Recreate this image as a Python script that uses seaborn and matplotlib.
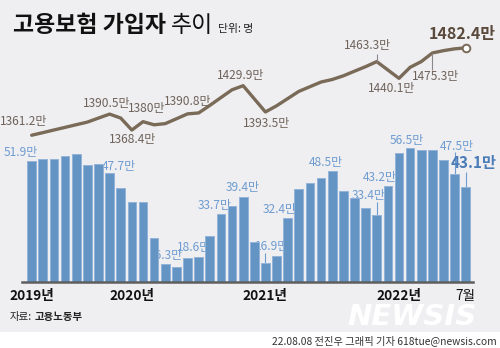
import numpy as np
import pandas as pd
import matplotlib
matplotlib.use("Agg")
import matplotlib.pyplot as plt
from matplotlib.patches import Rectangle
import seaborn as sns

# ---------------- data ----------------
months = [str(p) for p in pd.period_range("2019-04", "2022-07", freq="M")]
increase = [51.9, 52.6, 52.5, 53.6, 54.3, 50.4, 50.9, 47.7, 42.5, 37.7,
            37.7, 25.5, 16.3, 15.5, 18.6, 18.8, 26.2, 33.7, 36.5, 39.4,
            23.9, 16.9, 19.2, 32.4, 42.3, 44.2, 46.2, 48.5, 41.7, 39.1,
            35.6, 33.4, 43.2, 54.8, 56.5, 55.7, 55.6, 52.3, 47.5, 43.1]
subscribers = [1361.2, 1364.8, 1368.5, 1372.1, 1375.8, 1379.4, 1385.0, 1390.5, 1385.0, 1368.4,
               1380.0, 1375.7, 1377.3, 1384.0, 1390.8, 1392.1, 1402.5, 1413.4, 1424.2, 1429.9,
               1411.7, 1393.5, 1402.0, 1412.0, 1422.0, 1428.5, 1435.0, 1438.5, 1443.6, 1450.0,
               1456.3, 1463.3, 1451.7, 1440.1, 1455.4, 1463.3, 1475.3, 1478.5, 1481.0, 1482.4]
tick_idx = [0, 9, 21, 33, 39]
tick_labels = ["2019년", "2020년", "2021년", "2022년", "7월"]

# labelled points: index -> (dx, dy) offsets in pixels
line_labels = {0: (-8, 14), 7: (-3, 11), 9: (1, -9), 10: (4, 13), 14: (0, 12),
               19: (-3, 10), 21: (1, -12), 31: (-9, 16), 33: (-7, -10), 36: (3, -24)}
bar_labels = {0: (-11, 9), 7: (9, 7), 12: (1, 9), 14: (7, 10), 17: (-6, 8),
              19: (0, 10), 21: (7, 16), 23: (-8, 8), 27: (-6, 8), 31: (-8, 19),
              32: (-8, 9), 34: (-3, 7), 38: (2, 27)}

# ---------------- style ----------------
BG = "#efeff1"
BAR = "#6494c4"
LINE = "#7a6a58"
LTXT = "#6e625a"
BTXT = "#6e9bd0"
NARROW = ["Liberation Sans Narrow", "Noto Sans CJK KR"]
KR = ["Noto Sans CJK KR", "DejaVu Sans"]

sns.set_theme(style="white")
plt.rcParams["font.family"] = NARROW

W, H = 500, 348
fig = plt.figure(figsize=(W / 100, H / 100), dpi=100)
fig.patch.set_facecolor(BG)
fig.patches.append(Rectangle((0, 0), 1, 16 / H, transform=fig.transFigure,
                             facecolor="white", edgecolor="none", zorder=0))

left, right, top, base = 22, 473, 20, 281.7
ax = fig.add_axes([left / W, (H - base) / H, (right - left) / W, (base - top) / H])
ax.set_facecolor("none")

df = pd.DataFrame({"month": months, "increase": increase})
sns.barplot(data=df, x="month", y="increase", ax=ax, color=BAR, saturation=1,
            width=0.78, edgecolor="#93b3d8", linewidth=0.7, zorder=2)
ax.set_xlim(-0.87, 39.65)
ax.set_ylim(10.3, 100.5)
for s in ["top", "right", "left"]:
    ax.spines[s].set_visible(False)
ax.spines["bottom"].set_color("#5f5f5f")
ax.spines["bottom"].set_linewidth(1.8)
ax.set_yticks([])
ax.set_xlabel("")
ax.set_ylabel("")
ax.set_xticks(tick_idx)
ax.set_xticklabels(tick_labels)
ax.tick_params(axis="x", length=0, pad=5)
for i, t in enumerate(ax.get_xticklabels()):
    t.set_fontfamily(NARROW)
    t.set_fontsize(9.8)
    t.set_color("#111111")
    t.set_fontweight("normal" if i == 4 else "bold")

# bar labels sit behind the bars (as in the original, where neighbours clip them)
for i, (dx, dy) in bar_labels.items():
    ax.annotate(f"{increase[i]:g}만", xy=(i, increase[i]), xytext=(dx, dy),
                textcoords="offset pixels", ha="center", va="center",
                fontsize=8.6, color=BTXT, family=NARROW, zorder=1)
ax.annotate(f"{increase[39]:g}만", xy=(39, increase[39]), xytext=(8, 24),
            textcoords="offset pixels", ha="center", va="center",
            fontsize=11, fontweight="bold", color="#4a7cb8", family=NARROW, zorder=3)
# leader ticks for crowded bar labels
for i, d in [(21, 3.3), (31, 4.4), (38, 7.5), (39, 5.0)]:
    ax.vlines(i, increase[i], increase[i] + d, color=BTXT, lw=0.8, zorder=1)

# ---------------- line ----------------
ax2 = ax.twinx()
ax2.set_position(ax.get_position())
sns.lineplot(x=np.arange(len(subscribers)), y=subscribers, ax=ax2, color=LINE,
             linewidth=2.4, solid_joinstyle="round", solid_capstyle="round")
sns.scatterplot(x=[len(subscribers) - 1], y=[subscribers[-1]], ax=ax2, s=30,
                color="white", edgecolor=LINE, linewidth=1.4, zorder=5)
ax2.set_ylim(1158.1, 1521.0)
ax2.set_xlim(-0.87, 39.65)
for s in ax2.spines.values():
    s.set_visible(False)
ax2.set_yticks([])
ax2.set_ylabel("")
ax2.grid(False)
ax.grid(False)

for i, (dx, dy) in line_labels.items():
    ax2.annotate(f"{subscribers[i]:g}만", xy=(i, subscribers[i]), xytext=(dx, dy),
                 textcoords="offset pixels", ha="center", va="center",
                 fontsize=8.6, color=LTXT, family=NARROW)
ax2.annotate(f"{subscribers[39]:g}만", xy=(39, subscribers[39]), xytext=(-3, 14),
             textcoords="offset pixels", ha="center", va="center",
             fontsize=11.5, fontweight="bold", color="#5a4a3c", family=NARROW)
ax2.vlines(31, subscribers[31], subscribers[31] + 11, color="#8a8a8a", lw=0.8)
ax2.vlines(36, subscribers[36] - 23, subscribers[36], color="#8a8a8a", lw=0.8)

# ---------------- texts ----------------
def fx(x):
    return x / W

def fy(y):
    return 1 - y / H

fig.text(fx(13), fy(25), "고용보험 가입자", fontsize=16.5, fontweight="bold",
         family=KR, color="#111111", va="center", ha="left")
fig.text(fx(171), fy(25), "추이", fontsize=16.5, family=KR, color="#111111",
         va="center", ha="left")
fig.text(fx(218), fy(29), "단위: 명", fontsize=7.8, family=KR, color="#222222",
         va="center", ha="left")
fig.text(fx(10), fy(317), "자료:", fontsize=7.5, family=KR, color="#222222",
         va="center", ha="left")
fig.text(fx(35), fy(317), "고용노동부", fontsize=7.5, fontweight="bold", family=KR,
         color="#222222", va="center", ha="left")
fig.text(fx(412), fy(317), "NEWSIS", fontsize=21, fontweight="heavy", style="italic",
         family="DejaVu Sans", color="white", va="center", ha="center", zorder=1)
fig.text(fx(497), fy(341), "22.08.08 전진우 그래픽 기자 618tue@newsis.com",
         fontsize=7.4, family=NARROW, color="#333333", va="center", ha="right")

fig.savefig("out.png", dpi=100, facecolor=fig.get_facecolor())
